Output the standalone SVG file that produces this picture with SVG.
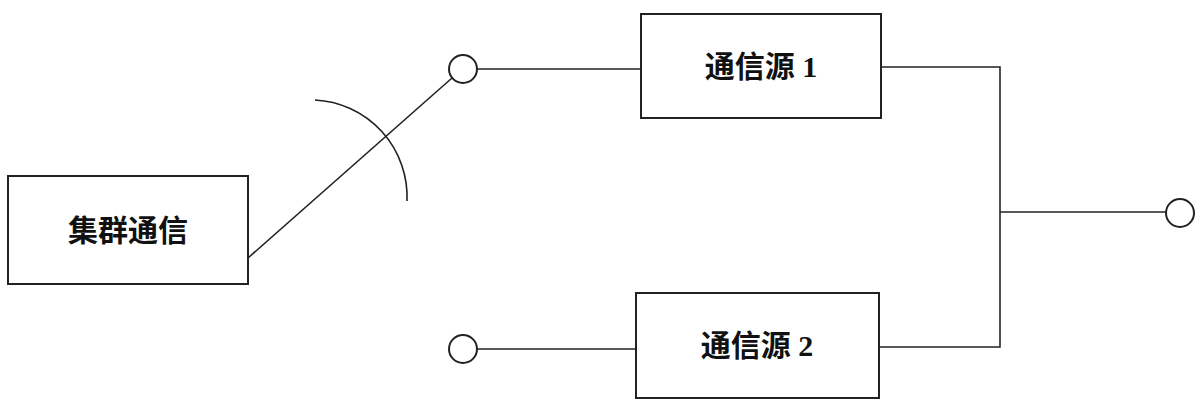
<svg xmlns="http://www.w3.org/2000/svg" width="1200" height="417" viewBox="0 0 1200 417">
<style>
.b{fill:#fff;stroke:#222;stroke-width:2}
.l{fill:none;stroke:#222;stroke-width:1.6}
.t{font-family:"Liberation Serif","Noto Sans CJK SC",serif;font-size:30px;font-weight:bold;fill:#111;text-anchor:middle;dominant-baseline:central}
</style>
<rect width="1200" height="417" fill="#fff"/>
<g id="connectors">
<path class="l" d="M248,258 L452,78"/>
<path class="l" d="M315,100 A97,97 0 0 1 407,201"/>
<path class="l" d="M477,69 H641"/>
<path class="l" d="M881,67 H1000 V347 H879"/>
<path class="l" d="M1000,212 H1166"/>
<path class="l" d="M477,349 H636"/>
</g>
<g id="n1"><rect class="b" x="8" y="176" width="240" height="108"/><text class="t" x="128" y="230">集群通信</text></g>
<g id="n2"><rect class="b" x="641" y="14" width="240" height="104"/><text class="t" x="761" y="66">通信源 1</text></g>
<g id="n3"><rect class="b" x="636" y="293" width="243" height="105"/><text class="t" x="757" y="345">通信源 2</text></g>
<g id="c1"><circle class="b" cx="463" cy="69" r="14"/></g>
<g id="c2"><circle class="b" cx="1180" cy="213" r="14"/></g>
<g id="c3"><circle class="b" cx="463" cy="349" r="14"/></g>
</svg>
